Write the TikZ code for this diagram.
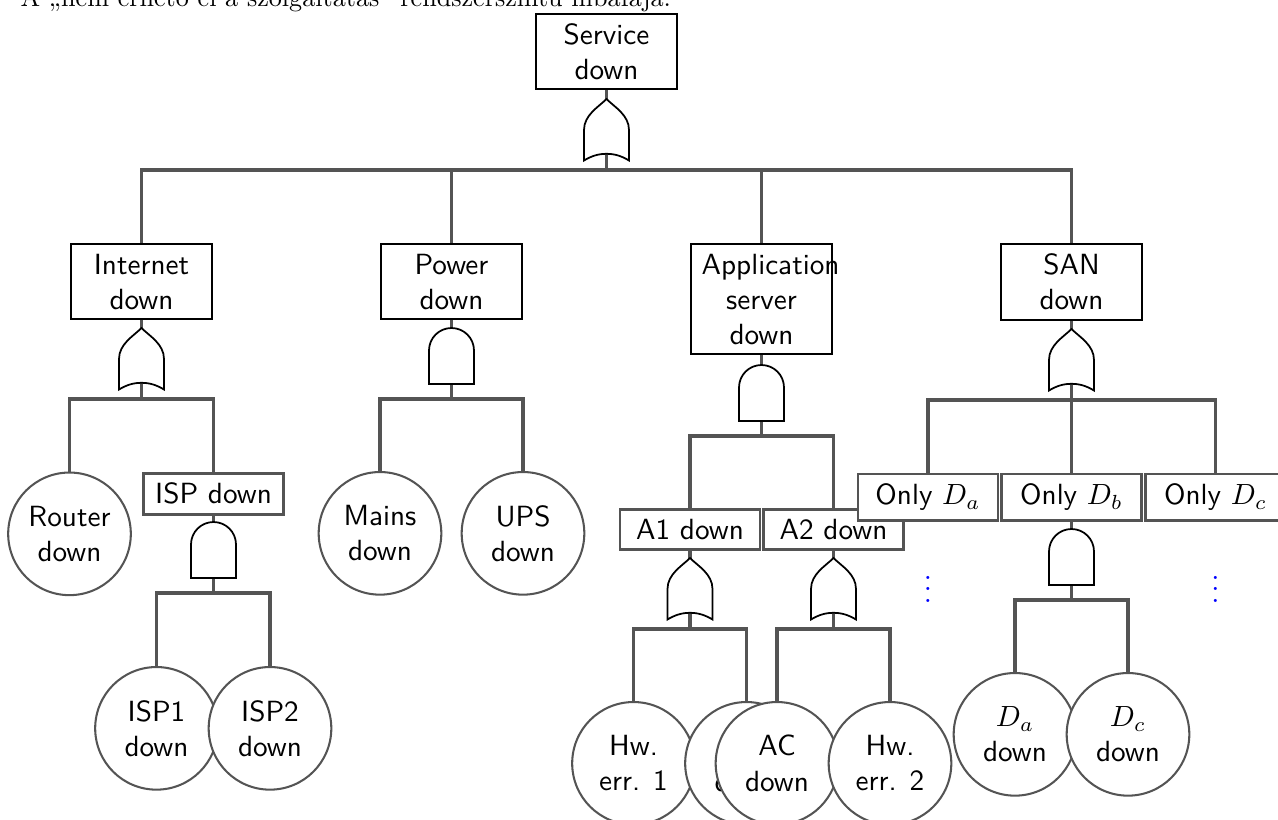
\documentclass[tikz,border=0pt]{standalone}
\usepackage{amsmath, amssymb}
\usepackage{tikz}

\tikzset{
  event/.style={rectangle, draw=black, fill=white, line width=0.7pt, anchor=north,
    text width=41pt, minimum width=48pt, align=center, font=\sffamily},
  subevent/.style={rectangle, draw=black!67, fill=white, line width=0.9pt, anchor=north,
    minimum width=48pt, align=center, font=\sffamily},
  basic/.style={circle, draw=black!67, fill=white, line width=0.7pt, anchor=north,
    minimum size=42pt, inner sep=0pt, align=center, font=\sffamily},
  conn/.style={draw=black!67, line width=1.15pt},
  gate/.style={draw=black, fill=white, line width=0.6pt},
  moredots/.style={text=blue, anchor=base, inner sep=0pt},
  pics/orgate/.style={code={
    \draw[gate] (0,-71) .. controls (8,-63) and (22.5,-55) .. (22.5,-40) -- (22.5,-9.5)
      .. controls (8,-18.5) and (-8,-18.5) .. (-22.5,-9.5) -- (-22.5,-40)
      .. controls (-22.5,-55) and (-8,-63) .. (0,-71) -- cycle;
  }},
  pics/andgate/.style={code={
    \draw[gate] (-22.5,-15) -- (-22.5,-48.5) .. controls (-22.5,-61) and (-12.4,-71) .. (0,-71)
      .. controls (12.4,-71) and (22.5,-61) .. (22.5,-48.5) -- (22.5,-15) -- cycle;
  }},
}

\begin{document}
\begin{tikzpicture}[x=0.3425pt, y=-0.3425pt]
  \useasboundingbox (0,0) rectangle (1278,819);
  \clip (0,0) rectangle (1278,819);

  % Caption line (cut at the top)
  \node[anchor=base west, inner sep=0pt, font=\rmfamily, scale=0.895] (caption) at (20,6.5)
    {A „nem érhető el a szolgáltatás” rendszerszintű hibafája.};

  % Top event and the four subsystems
  \node[event] (svc) at (606.5,12.7) {Service\\down};
  \node[event] (int) at (141.5,243) {Internet\\down};
  \node[event] (pow) at (451.5,243) {Power\\down};
  \node[event] (app) at (761.5,243) {Application\\server\\down};
  \node[event] (san) at (1071.5,243) {SAN\\down};

  % Internet
  \node[basic] (router) at (69.5,471.5) {Router\\down};
  \node[subevent] (isp) at (213.5,472) {ISP down};
  \node[basic] (isp1) at (156.5,666) {ISP1\\down};
  \node[basic] (isp2) at (270,666) {ISP2\\down};

  % Power
  \node[basic] (mains) at (380,471) {Mains\\down};
  \node[basic] (ups) at (523,471) {UPS\\down};

  % Application server
  \node[subevent] (a1) at (690,508) {A1 down};
  \node[subevent] (a2) at (833.5,508) {A2 down};
  \node[basic] (hw1) at (633.5,701) {Hw.\\err. 1};
  \node[basic] (ac1) at (746.5,701) {AC\\down};
  \node[basic] (ac2) at (777,701) {AC\\down};
  \node[basic] (hw2) at (890,701) {Hw.\\err. 2};

  % SAN
  \node[subevent] (onlya) at (928,472.7) {Only $D_a$};
  \node[subevent] (onlyb) at (1071.5,472.7) {Only $D_b$};
  \node[subevent] (onlyc) at (1215.5,472.7) {Only $D_c$};
  \node[moredots] (dotsa) at (928,602.5) {$\vdots$};
  \node[moredots] (dotsc) at (1215.5,602.5) {$\vdots$};
  \node[basic] (da) at (1015,672) {$D_a$\\down};
  \node[basic] (dc) at (1128,672) {$D_c$\\down};

  % Junctions below the gates
  \coordinate (jSvc) at (606.5,170);
  \coordinate (jInt) at (141.5,399);
  \coordinate (jPow) at (451.5,399);
  \coordinate (jApp) at (761.5,436);
  \coordinate (jSan) at (1071.5,400);
  \coordinate (jIsp) at (213.5,593);
  \coordinate (jA1) at (690,629);
  \coordinate (jA2) at (833.5,629);
  \coordinate (jDb) at (1071.5,600);

  % Connectors
  \draw[conn] (svc.south) -- (jSvc);
  \draw[conn] (jSvc) -| (int.north);
  \draw[conn] (jSvc) -| (pow.north);
  \draw[conn] (jSvc) -| (app.north);
  \draw[conn] (jSvc) -| (san.north);
  \draw[conn] (int.south) -- (jInt);
  \draw[conn] (jInt) -| (router.north);
  \draw[conn] (jInt) -| (isp.north);
  \draw[conn] (isp.south) -- (jIsp);
  \draw[conn] (jIsp) -| (isp1.north);
  \draw[conn] (jIsp) -| (isp2.north);
  \draw[conn] (pow.south) -- (jPow);
  \draw[conn] (jPow) -| (mains.north);
  \draw[conn] (jPow) -| (ups.north);
  \draw[conn] (app.south) -- (jApp);
  \draw[conn] (jApp) -| (a1.north);
  \draw[conn] (jApp) -| (a2.north);
  \draw[conn] (a1.south) -- (jA1);
  \draw[conn] (jA1) -| (hw1.north);
  \draw[conn] (jA1) -| (ac1.north);
  \draw[conn] (a2.south) -- (jA2);
  \draw[conn] (jA2) -| (ac2.north);
  \draw[conn] (jA2) -| (hw2.north);
  \draw[conn] (san.south) -- (jSan);
  \draw[conn] (jSan) -| (onlya.north);
  \draw[conn] (jSan) -- (onlyb.north);
  \draw[conn] (jSan) -| (onlyc.north);
  \draw[conn] (onlyb.south) -- (jDb);
  \draw[conn] (jDb) -| (da.north);
  \draw[conn] (jDb) -| (dc.north);

  % Gates
  \pic at (jSvc) {orgate};
  \pic at (jInt) {orgate};
  \pic at (jSan) {orgate};
  \pic at (jA1) {orgate};
  \pic at (jA2) {orgate};
  \pic at (jPow) {andgate};
  \pic at (jApp) {andgate};
  \pic at (jIsp) {andgate};
  \pic at (jDb) {andgate};
\end{tikzpicture}
\end{document}
